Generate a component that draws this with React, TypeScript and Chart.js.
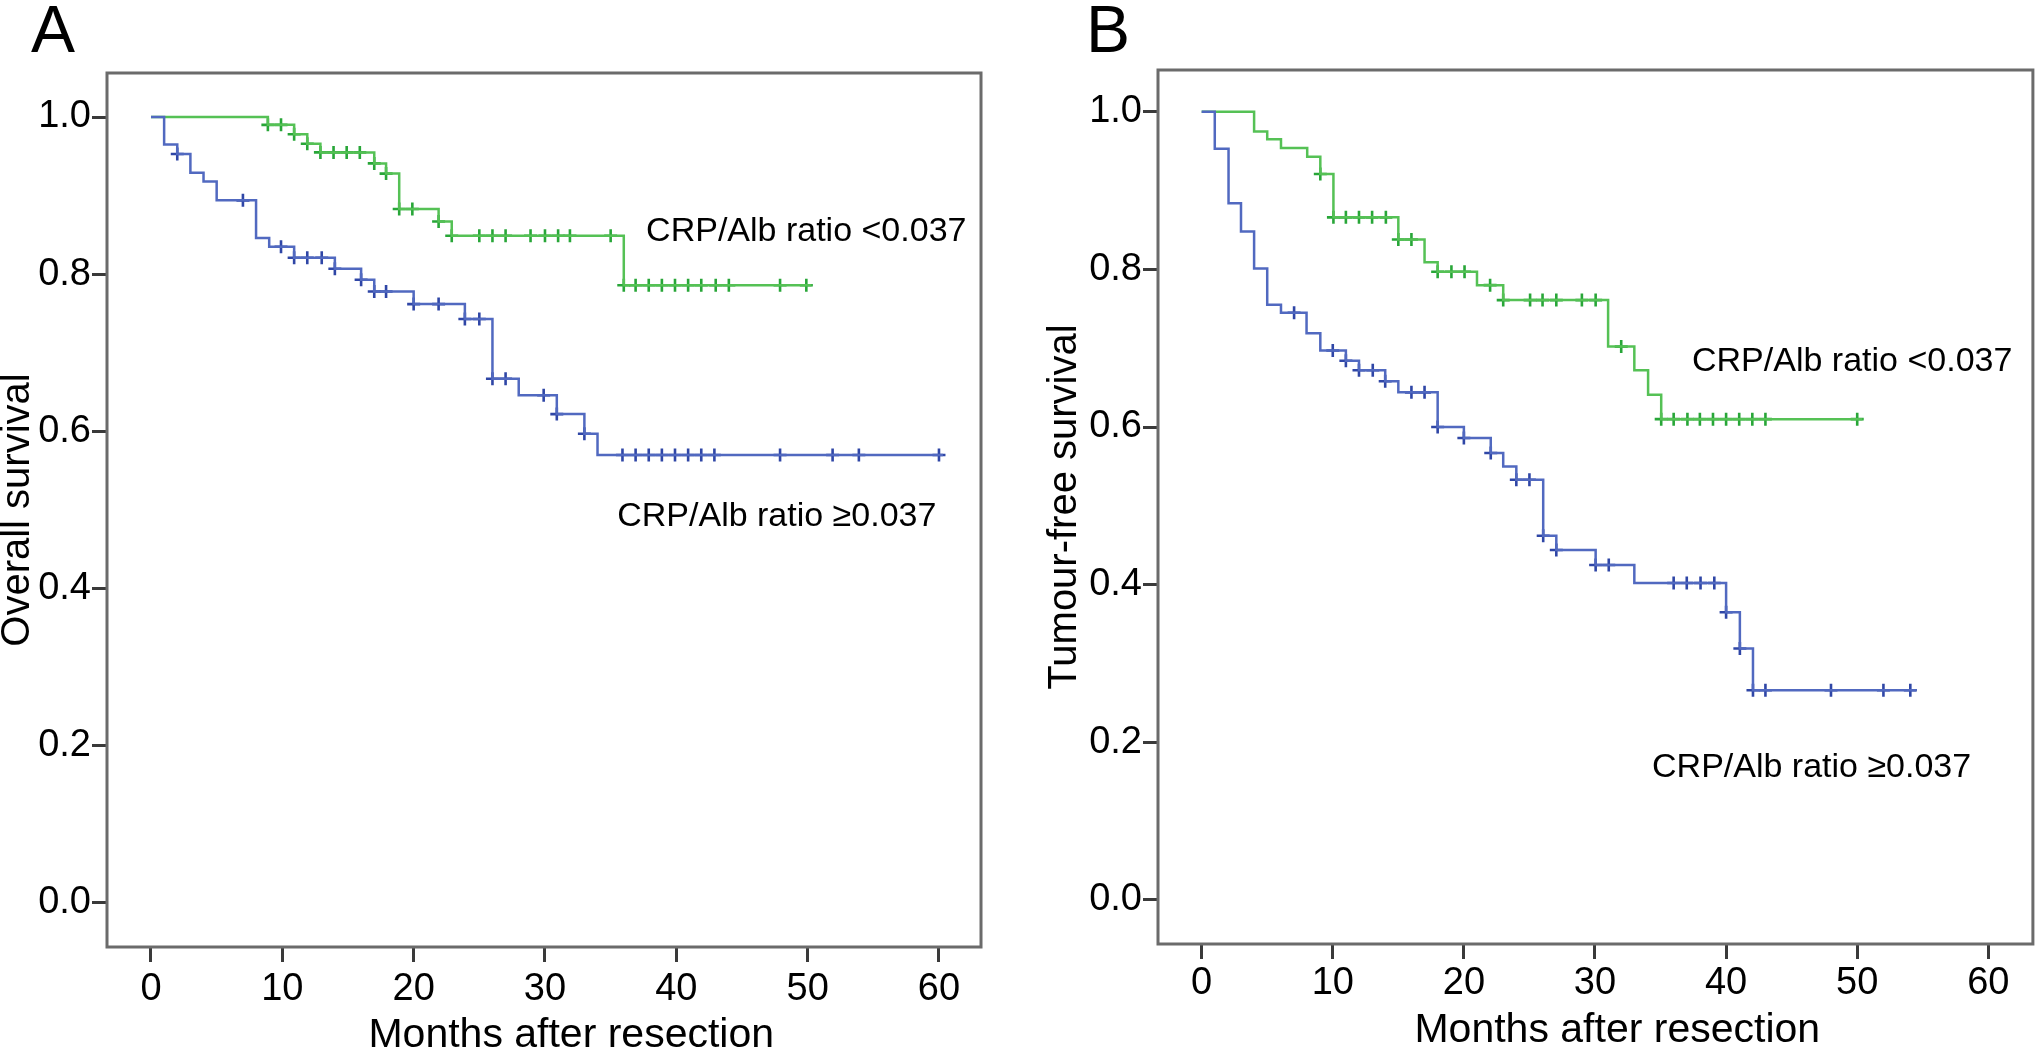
import React, { useEffect, useRef } from 'react';
import { Chart, registerables } from 'chart.js';

Chart.register(...registerables);

const FONT = "'Liberation Sans', Arial, Helvetica, sans-serif";

const xTickValues = [0, 10, 20, 30, 40, 50, 60];
const yTickValues = [0, 0.2, 0.4, 0.6, 0.8, 1.0];

// Panel A - overall survival, CRP/Alb ratio <0.037
const osLowTime = [0, 8.9, 10.9, 11.9, 12.9, 17.0, 17.9, 18.9, 21.9, 22.9, 36.0, 50.3];
const osLowSurv = [1.0, 0.99, 0.978, 0.966, 0.955, 0.941, 0.928, 0.883, 0.867, 0.849, 0.786, 0.786];
const osLowCensor = [8.9, 9.9, 10.9, 11.9, 12.9, 13.9, 14.9, 15.9, 17.0, 17.9, 18.9, 19.9, 21.9, 22.9, 25.0, 26.0, 27.0, 28.9, 30.0, 31.0, 31.9, 35.0, 36.0, 36.9, 37.9, 38.9, 39.9, 40.9, 41.9, 43.0, 44.0, 47.9, 49.9];

// Panel A - overall survival, CRP/Alb ratio >=0.037
const osHighTime = [0, 1.0, 2.0, 3.0, 4.0, 5.0, 8.0, 9.0, 10.9, 14.0, 16.0, 17.0, 20.0, 23.9, 26.0, 28.0, 30.9, 33.0, 34.0, 60.3];
const osHighSurv = [1.0, 0.965, 0.953, 0.929, 0.918, 0.894, 0.846, 0.835, 0.821, 0.807, 0.793, 0.778, 0.762, 0.743, 0.667, 0.646, 0.622, 0.597, 0.57, 0.57];
const osHighCensor = [2.0, 7.0, 9.9, 10.9, 11.9, 13.0, 14.0, 16.0, 17.0, 17.9, 20.0, 21.9, 23.9, 25.0, 26.0, 27.0, 29.9, 30.9, 33.0, 35.9, 36.9, 37.9, 38.9, 39.9, 40.9, 41.9, 42.9, 47.9, 51.9, 53.9, 60.0];

// Panel B - tumour-free survival, CRP/Alb ratio <0.037
const tfsLowTime = [0, 4.0, 5.0, 6.05, 8.05, 9.05, 10.05, 15.0, 17.0, 18.0, 21.0, 23.0, 31.0, 33.0, 34.05, 35.05, 50.4];
const tfsLowSurv = [1.0, 0.975, 0.965, 0.954, 0.943, 0.921, 0.866, 0.838, 0.809, 0.797, 0.78, 0.761, 0.702, 0.672, 0.641, 0.61, 0.61];
const tfsLowCensor = [9.05, 10.05, 11.0, 12.0, 13.0, 14.05, 15.0, 16.0, 18.0, 19.05, 20.05, 22.0, 23.0, 25.05, 26.0, 27.05, 29.0, 30.05, 32.0, 35.05, 36.0, 37.05, 38.0, 39.0, 40.0, 41.0, 42.0, 43.0, 50.0];

// Panel B - tumour-free survival, CRP/Alb ratio >=0.037
const tfsHighTime = [0, 1.0, 2.05, 3.0, 4.0, 5.0, 6.05, 8.0, 9.05, 11.0, 12.0, 14.0, 15.0, 18.0, 20.0, 22.05, 23.0, 24.0, 26.05, 27.05, 30.05, 33.0, 40.0, 41.05, 42.05, 54.5];
const tfsHighSurv = [1.0, 0.953, 0.884, 0.848, 0.801, 0.755, 0.745, 0.719, 0.697, 0.684, 0.672, 0.658, 0.644, 0.6, 0.586, 0.567, 0.55, 0.533, 0.462, 0.444, 0.425, 0.402, 0.365, 0.319, 0.266, 0.266];
const tfsHighCensor = [7.05, 10.0, 11.0, 12.0, 13.05, 14.0, 16.0, 17.0, 18.0, 20.0, 22.05, 24.0, 25.0, 26.05, 27.05, 30.05, 31.05, 36.0, 37.0, 38.05, 39.1, 40.0, 41.05, 42.05, 43.0, 48.0, 52.0, 54.05];

const LABEL_LOW = 'CRP/Alb ratio <0.037';
const LABEL_HIGH = 'CRP/Alb ratio \u22650.037';

const GREEN_LINE = '#55c155';
const GREEN_MARK = '#28a638';
const BLUE_LINE = '#5169c0';
const BLUE_MARK = '#2f46a6';

type Curve = { time: number[]; surv: number[]; censor: number[] };
type Note = { text: string; x: number; y: number };
type Panel = {
  left: number;
  width: number;
  height: number;
  padTop: number;
  padRight: number;
  yAxisWidth: number;
  xAxisHeight: number;
  xMin: number;
  xMax: number;
  yMin: number;
  yMax: number;
  yTitle: string;
  yTitlePad: number;
  xTickPad: number;
  xTitle: string;
  xTitleCenter: number;
  xTitleOffset: number;
  letter: string;
  letterX: number;
  letterY: number;
  notes: Note[];
  low: Curve;
  high: Curve;
};

function stepPoints(c: Curve) {
  return c.time.map((t, i) => ({ x: t, y: c.surv[i] }));
}

function survAt(c: Curve, t: number) {
  let v = c.surv[0];
  for (let i = 0; i < c.time.length; i++) {
    if (c.time[i] <= t + 1e-9) v = c.surv[i];
  }
  return v;
}

function censorPoints(c: Curve) {
  return c.censor.map((t) => ({ x: t, y: survAt(c, t) }));
}

const panelA: Panel = {
  left: 0,
  width: 1020,
  height: 1049,
  padTop: 73,
  padRight: 39,
  yAxisWidth: 107,
  xAxisHeight: 102,
  xMin: -3.35,
  xMax: 63.2,
  yMin: -0.056,
  yMax: 1.056,
  yTitle: 'Overall survival',
  yTitlePad: -6,
  xTickPad: 5,
  xTitle: 'Months after resection',
  xTitleCenter: 32.0,
  xTitleOffset: 100,
  letter: 'A',
  letterX: 31,
  letterY: 52,
  notes: [
    { text: LABEL_LOW, x: 37.7, y: 0.842 },
    { text: LABEL_HIGH, x: 35.5, y: 0.48 },
  ],
  low: { time: osLowTime, surv: osLowSurv, censor: osLowCensor },
  high: { time: osHighTime, surv: osHighSurv, censor: osHighCensor },
};

const panelB: Panel = {
  left: 1040,
  width: 1002,
  height: 1049,
  padTop: 70,
  padRight: 8,
  yAxisWidth: 118,
  xAxisHeight: 105,
  xMin: -3.33,
  xMax: 63.4,
  yMin: -0.056,
  yMax: 1.053,
  yTitle: 'Tumour-free survival',
  yTitlePad: 1,
  xTickPad: 2,
  xTitle: 'Months after resection',
  xTitleCenter: 31.7,
  xTitleOffset: 98,
  letter: 'B',
  letterX: 46,
  letterY: 52,
  notes: [
    { text: LABEL_LOW, x: 37.4, y: 0.671 },
    { text: LABEL_HIGH, x: 34.35, y: 0.156 },
  ],
  low: { time: tfsLowTime, surv: tfsLowSurv, censor: tfsLowCensor },
  high: { time: tfsHighTime, surv: tfsHighSurv, censor: tfsHighCensor },
};

function buildChart(canvas: HTMLCanvasElement, p: Panel) {
  const decor = {
    id: 'decor' + p.letter,
    afterDraw(chart: any) {
      const { ctx, chartArea: a, scales } = chart;
      ctx.save();
      ctx.strokeStyle = '#6b6b6b';
      ctx.lineWidth = 3;
      ctx.strokeRect(a.left, a.top, a.right - a.left, a.bottom - a.top);
      ctx.fillStyle = '#000';
      ctx.textBaseline = 'alphabetic';
      ctx.textAlign = 'left';
      ctx.font = `34px ${FONT}`;
      for (const n of p.notes) {
        ctx.fillText(n.text, scales.x.getPixelForValue(n.x), scales.y.getPixelForValue(n.y));
      }
      ctx.font = `41px ${FONT}`;
      ctx.textAlign = 'center';
      ctx.fillText(p.xTitle, scales.x.getPixelForValue(p.xTitleCenter), a.bottom + p.xTitleOffset);
      ctx.font = `66px ${FONT}`;
      ctx.textAlign = 'left';
      ctx.fillText(p.letter, p.letterX, p.letterY);
      ctx.restore();
    },
  };

  const line = (c: Curve, color: string) => ({
    data: stepPoints(c),
    stepped: true,
    borderColor: color,
    borderWidth: 2.5,
    pointRadius: 0,
    pointHoverRadius: 0,
    fill: false,
  });
  const marks = (c: Curve, color: string) => ({
    data: censorPoints(c),
    showLine: false,
    pointStyle: 'cross',
    pointRadius: 6.5,
    pointHoverRadius: 6.5,
    borderColor: color,
    backgroundColor: color,
    borderWidth: 2.6,
  });

  return new Chart(canvas, {
    type: 'line',
    data: {
      datasets: [
        line(p.high, BLUE_LINE),
        line(p.low, GREEN_LINE),
        marks(p.high, BLUE_MARK),
        marks(p.low, GREEN_MARK),
      ] as any,
    },
    options: {
      responsive: false,
      animation: false,
      events: [],
      layout: { padding: { left: 0, top: p.padTop, right: p.padRight, bottom: 0 } },
      plugins: {
        legend: { display: false },
        tooltip: { enabled: false },
      },
      scales: {
        x: {
          type: 'linear',
          min: p.xMin,
          max: p.xMax,
          afterBuildTicks: (s: any) => {
            s.ticks = xTickValues.map((v) => ({ value: v }));
          },
          afterFit: (s: any) => {
            s.height = p.xAxisHeight;
          },
          ticks: {
            autoSkip: false,
            maxRotation: 0,
            minRotation: 0,
            padding: p.xTickPad,
            color: '#000',
            font: { family: FONT, size: 38 },
            callback: (v: any) => String(v),
          },
          grid: {
            display: true,
            drawOnChartArea: false,
            drawTicks: true,
            tickLength: 15,
            tickWidth: 3,
            tickColor: '#3a3a3a',
          },
          border: { display: false },
        },
        y: {
          type: 'linear',
          min: p.yMin,
          max: p.yMax,
          afterBuildTicks: (s: any) => {
            s.ticks = yTickValues.map((v) => ({ value: v }));
          },
          afterFit: (s: any) => {
            s.width = p.yAxisWidth;
          },
          ticks: {
            autoSkip: false,
            padding: 1,
            color: '#000',
            font: { family: FONT, size: 38 },
            callback: (v: any) => Number(v).toFixed(1),
          },
          grid: {
            display: true,
            drawOnChartArea: false,
            drawTicks: true,
            tickLength: 15,
            tickWidth: 3,
            tickColor: '#3a3a3a',
          },
          border: { display: false },
          title: {
            display: true,
            text: p.yTitle,
            color: '#000',
            font: { family: FONT, size: 40 },
            padding: { top: p.yTitlePad, bottom: 0 },
          },
        },
      },
    } as any,
    plugins: [decor],
  });
}

function PanelCanvas({ panel }: { panel: Panel }) {
  const ref = useRef<HTMLCanvasElement | null>(null);
  useEffect(() => {
    if (!ref.current) return;
    const chart = buildChart(ref.current, panel);
    return () => chart.destroy();
  }, [panel]);
  return (
    <canvas
      ref={ref}
      width={panel.width}
      height={panel.height}
      style={{
        position: 'absolute',
        left: panel.left,
        top: 0,
        width: panel.width,
        height: panel.height,
      }}
    />
  );
}

export default function App() {
  return (
    <div
      style={{
        position: 'absolute',
        left: 0,
        top: 0,
        width: 2042,
        height: 1049,
        background: '#fff',
        overflow: 'hidden',
      }}
    >
      <PanelCanvas panel={panelA} />
      <PanelCanvas panel={panelB} />
    </div>
  );
}
